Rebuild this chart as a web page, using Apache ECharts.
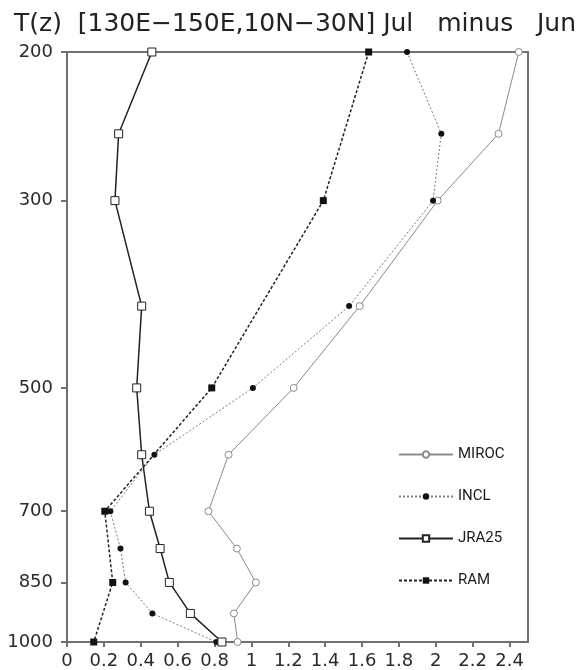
<!DOCTYPE html>
<html>
<head>
<meta charset="utf-8">
<script src="https://cdn.jsdelivr.net/npm/echarts@6/dist/echarts.min.js"></script>
<style>html,body{margin:0;padding:0;background:#fff;}#c{width:584px;height:670px;}</style>
</head>
<body>
<div id="c"></div>
<script>
// Pressure levels (hPa)
const levelsFull = [200, 250, 300, 400, 500, 600, 700, 775, 850, 925, 1000];
const levelsRAM = [200, 300, 500, 700, 850, 1000];
// Temperature difference (K), Jul minus Jun
const mirocValues = [2.45, 2.34, 2.01, 1.587, 1.229, 0.876, 0.767, 0.921, 1.024, 0.905, 0.925];
const inclValues  = [1.844, 2.03, 1.985, 1.53, 1.008, 0.474, 0.235, 0.29, 0.318, 0.463, 0.81];
const jra25Values = [0.46, 0.28, 0.26, 0.405, 0.378, 0.405, 0.447, 0.505, 0.555, 0.669, 0.84];
const ramValues   = [1.636, 1.39, 0.785, 0.205, 0.248, 0.145];
// Tick labels
const xTicks = [0, 0.2, 0.4, 0.6, 0.8, 1, 1.2, 1.4, 1.6, 1.8, 2, 2.2, 2.4];
const yTicks = [200, 300, 500, 700, 850, 1000];
const titleText = 'T(z)  [130E\u2212150E,10N\u221230N] Jul   minus   Jun';

const lg = v => Math.log10(v);
const pair = (xs, ps) => xs.map((x, i) => [x, lg(ps[i])]);

const chart = echarts.init(document.getElementById('c'), null, {renderer: 'canvas'});
const labelFont = {fontFamily: 'DejaVu Sans', fontSize: 18, color: '#2a2a2a'};
const axisLineStyle = {color: '#707070', width: 2};

chart.setOption({
  animation: false,
  backgroundColor: '#fff',
  title: {
    text: titleText, left: 14, top: 12, padding: 0,
    textStyle: {fontFamily: 'DejaVu Sans', fontSize: 25, fontWeight: 'normal', color: '#222'}
  },
  grid: {left: 67, right: 56, top: 52, bottom: 27, show: true, borderColor: '#707070', borderWidth: 2, backgroundColor: 'transparent'},
  legend: {
    orient: 'vertical', left: 398, top: 447, padding: 0,
    itemWidth: 54, itemHeight: 8, itemGap: 27,
    textStyle: {fontFamily: 'Roboto', fontSize: 15, color: '#1a1a1a'},
    data: ['MIROC', 'INCL', 'JRA25', 'RAM']
  },
  xAxis: {
    type: 'value', min: 0, max: 2.5,
    axisLine: {show: true, lineStyle: axisLineStyle},
    axisTick: {show: true, length: 5, lineStyle: axisLineStyle, customValues: xTicks},
    axisLabel: Object.assign({margin: 10, customValues: xTicks, formatter: v => String(+(+v).toFixed(1))}, labelFont),
    splitLine: {show: false}
  },
  yAxis: {
    type: 'value', inverse: true, min: lg(200), max: lg(1000),
    axisLine: {show: true, lineStyle: axisLineStyle},
    axisTick: {show: true, length: 6, lineStyle: axisLineStyle, customValues: yTicks.map(lg)},
    axisLabel: Object.assign({margin: 14, customValues: yTicks.map(lg), formatter: v => String(Math.round(Math.pow(10, v)))}, labelFont),
    splitLine: {show: false}
  },
  series: [
    {
      name: 'MIROC', type: 'line', data: pair(mirocValues, levelsFull),
      symbol: 'circle', symbolSize: 7, showAllSymbol: true,
      lineStyle: {color: '#8a8a8a', width: 1},
      itemStyle: {color: '#fff', borderColor: '#8a8a8a', borderWidth: 1}
    },
    {
      name: 'INCL', type: 'line', data: pair(inclValues, levelsFull),
      symbol: 'circle', symbolSize: 6,
      lineStyle: {color: '#7a7a7a', width: 1, type: [2, 2]},
      itemStyle: {color: '#111', borderColor: '#111', borderWidth: 0}
    },
    {
      name: 'JRA25', type: 'line', data: pair(jra25Values, levelsFull),
      symbol: 'rect', symbolSize: 8,
      lineStyle: {color: '#222', width: 1.5},
      itemStyle: {color: '#fff', borderColor: '#222', borderWidth: 1}
    },
    {
      name: 'RAM', type: 'line', data: pair(ramValues, levelsRAM),
      symbol: 'rect', symbolSize: 7,
      lineStyle: {color: '#222', width: 1.5, type: [3, 2]},
      itemStyle: {color: '#111', borderColor: '#111', borderWidth: 0}
    }
  ]
});
</script>
</body>
</html>
